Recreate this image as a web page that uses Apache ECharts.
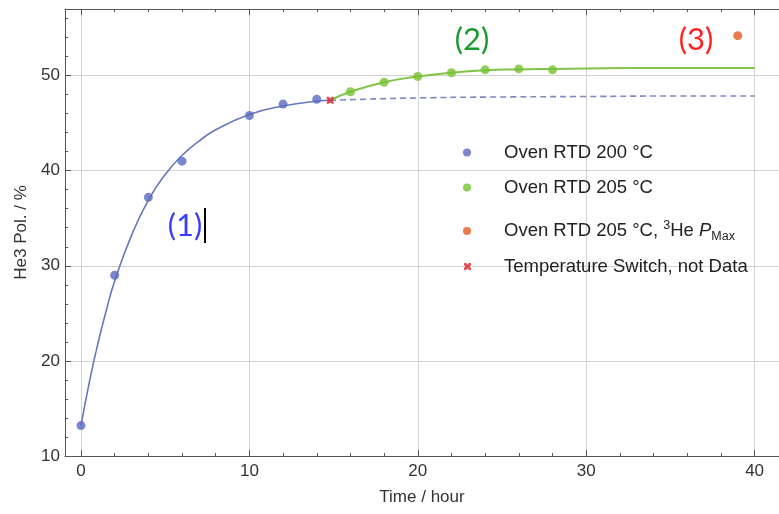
<!DOCTYPE html>
<html>
<head>
<meta charset="utf-8">
<script src="https://cdn.jsdelivr.net/npm/echarts@6/dist/echarts.min.js"></script>
<style>
html,body{margin:0;padding:0;background:#fff}
#main{width:779px;height:514px}
</style>
</head>
<body>
<div id="main"></div>
<script>
// measured points
var blueT=[0,2,4,6,10,12,14];
var blueP=[13.2,29.0,37.2,41.0,45.8,47.0,47.5];
var greenT=[16,18,20,22,24,26,28];
var greenP=[48.3,49.3,49.9,50.3,50.6,50.7,50.6];
var maxT=[39];
var maxP=[54.2];
var switchT=[14.8];
var switchP=[47.4];
// fit curves
var fit1T=[0,0.5,1,1.5,2,3,4,5,6,7,8,10,12,14,14.8];
var fit1P=[13.2,17.8,21.8,25.3,28.4,33.2,36.9,39.6,41.6,43.1,44.3,45.9,46.8,47.3,47.4];
var fit2T=[14.8,16,18,20,22,24,26,28,30,35,40];
var fit2P=[47.4,48.3,49.3,49.9,50.3,50.55,50.65,50.7,50.75,50.8,50.8];
var dashT=[14.8,20,25,30,35,40];
var dashP=[47.4,47.65,47.75,47.8,47.85,47.85];

var names=['Oven RTD 200 °C','Oven RTD 205 °C','Oven RTD 205 °C, ³He P_Max','Temperature Switch, not Data'];
var xMin=-0.95, xMax=41.45, yMin=10, yMax=57;

function pairs(xs,ys){
  return xs.map(function(x,i){return [x,ys[i]];});
}
function tens(v){
  return Math.abs(v%10)<1e-6 ? String(v) : '';
}

var crossPath='path://M0,0L3,0L5,2L7,0L10,0L10,3L8,5L10,7L10,10L7,10L5,8L3,10L0,10L0,7L2,5L0,3Z';
var axisCol='#555';
var font='Liberation Sans';

var myChart=echarts.init(document.getElementById('main'));

function xAx(pos,major,show){
  return {
    type:'value', position:pos, min:xMin, max:xMax,
    splitNumber: major?5:21,
    minInterval: major?10:2, maxInterval: major?10:2,
    axisLine:{show:show,onZero:false,lineStyle:{color:axisCol}},
    axisTick:{show:true,inside:true,length:major?6:3,lineStyle:{color:axisCol}},
    axisLabel:{show:major&&pos==='bottom',formatter:tens,color:'#333',fontSize:17,fontFamily:font,margin:7},
    splitLine:{show:major&&pos==='bottom',lineStyle:{color:'#d2d2d2'}},
    name: major&&pos==='bottom' ? 'Time / hour' : '',
    nameLocation:'middle', nameGap:33,
    nameTextStyle:{color:'#333',fontSize:17,fontFamily:font}
  };
}

var option={
  animation:false,
  grid:{left:65,right:0,top:9,bottom:58,outerBoundsMode:'none',containLabel:false},
  xAxis:[xAx('bottom',true,true),xAx('bottom',false,false),xAx('top',true,true),xAx('top',false,false)],
  yAxis:[
    {
      type:'value', position:'left', min:yMin, max:yMax, interval:10,
      axisLine:{show:true,onZero:false,lineStyle:{color:axisCol}},
      axisTick:{inside:true,length:6,lineStyle:{color:axisCol}},
      axisLabel:{formatter:tens,color:'#333',fontSize:17,fontFamily:font,margin:5},
      splitLine:{show:true,lineStyle:{color:'#d2d2d2'}},
      name:'He3 Pol. / %', nameLocation:'middle', nameGap:34,
      nameTextStyle:{color:'#333',fontSize:17,fontFamily:font}
    },
    {
      type:'value', position:'left', min:yMin, max:yMax, interval:2,
      axisLine:{show:false,onZero:false},
      axisTick:{inside:true,length:3,lineStyle:{color:axisCol}},
      axisLabel:{show:false}, splitLine:{show:false}
    }
  ],
  legend:[
    {data:[names[0]],top:143},
    {data:[names[1]],top:178},
    {data:[names[2]],top:219},
    {data:[{name:names[3],icon:crossPath}],top:257,left:464,itemWidth:7,itemHeight:7}
  ].map(function(l){
    return Object.assign({
      left:463, padding:0, selectedMode:false, orient:'vertical',
      itemWidth:8, itemHeight:8,
      formatter:function(n){
        if(n===names[2]) return '{a|Oven RTD 205 °C, }{sup|3}{a|He }{i|P}{sub|Max}';
        return n;
      },
      textStyle:{
        color:'#222',fontSize:18.5,fontFamily:font,padding:[0,0,0,28],
        rich:{
          a:{fontSize:18.5,fontFamily:font,color:'#222',lineHeight:24},
          i:{fontSize:18.5,fontFamily:font,color:'#222',fontStyle:'italic',lineHeight:24},
          sup:{fontSize:12.5,fontFamily:font,color:'#222',lineHeight:12,verticalAlign:'top'},
          sub:{fontSize:12.5,fontFamily:font,color:'#222',lineHeight:12,verticalAlign:'bottom'}
        }
      }
    },l);
  }),
  graphic:[
    {type:'text',style:{text:'(1)',x:185,y:226,align:'center',verticalAlign:'middle',fontSize:31,fontFamily:'Lato',fill:'#3b3bff'}},
    {type:'rect',shape:{x:204,y:208,width:2,height:35},style:{fill:'#000'}},
    {type:'text',style:{text:'(2)',x:472,y:40,align:'center',verticalAlign:'middle',fontSize:31,fontFamily:'Lato',fill:'#1a9a2a'}},
    {type:'text',style:{text:'(3)',x:696,y:40,align:'center',verticalAlign:'middle',fontSize:31,fontFamily:'Lato',fill:'#ff2020'}}
  ],
  series:[
    {type:'line',data:pairs(fit1T,fit1P),smooth:true,showSymbol:false,lineStyle:{color:'#6677bd',width:1.6},z:2},
    {type:'line',data:pairs(dashT,dashP),smooth:true,showSymbol:false,lineStyle:{color:'#7f87c4',width:1.6,type:[6,4]},z:2},
    {type:'line',data:pairs(fit2T,fit2P),smooth:true,showSymbol:false,lineStyle:{color:'#80c447',width:2},z:2},
    {name:names[0],type:'scatter',data:pairs(blueT,blueP),symbol:'circle',symbolSize:9,itemStyle:{color:'#5a69c0'},z:3},
    {name:names[1],type:'scatter',data:pairs(greenT,greenP),symbol:'circle',symbolSize:9,itemStyle:{color:'#76c232'},z:3},
    {name:names[2],type:'scatter',data:pairs(maxT,maxP),symbol:'circle',symbolSize:9,itemStyle:{color:'#e65a22'},z:3},
    {name:names[3],type:'scatter',data:pairs(switchT,switchP),symbol:crossPath,symbolSize:7,itemStyle:{color:'#e0202a'},z:4}
  ]
};
myChart.setOption(option);
</script>
</body>
</html>
